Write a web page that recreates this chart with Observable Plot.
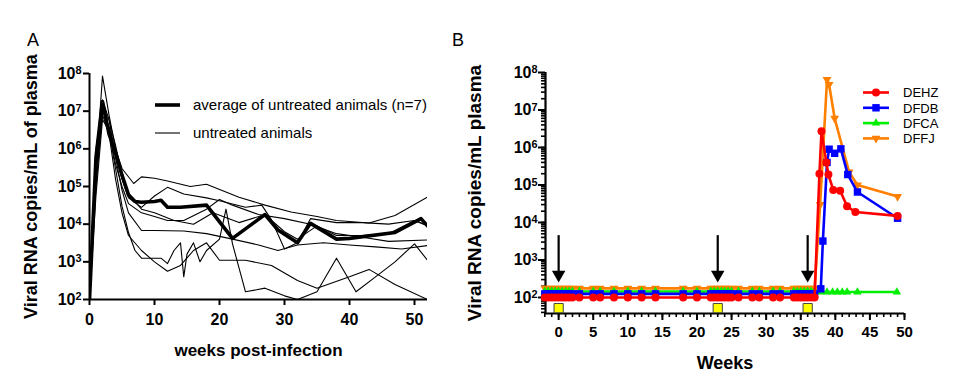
<!DOCTYPE html>
<html><head><meta charset="utf-8">
<script src="https://cdn.jsdelivr.net/npm/d3@7"></script>
<script src="https://cdn.jsdelivr.net/npm/@observablehq/plot@0.6"></script>
<style>
body{margin:0;background:#fff;}
#wrap{position:relative;width:979px;height:376px;overflow:hidden;font-family:"Liberation Sans",Arial,sans-serif;}
#wrap svg{position:absolute;top:0;}
</style></head><body><div id="wrap"></div>
<script>
// ---------- Panel A data: [week, copies/mL] ----------
const avgUntreated = [[0,1e2],[1,6e5],[2,1.8e7],[3,2.5e6],[4,8e5],[5,2e5],[6,6e4],[7,4e4],[8,3.8e4],[10,4e4],[11,4.3e4],[12,2.8e4],[14,2.8e4],[18,3.2e4],[22,4.2e3],[27,1.8e4],[29,7e3],[32,3.2e3],[34,1.05e4],[38,4e3],[40,4.2e3],[47,6e3],[51,1.4e4],[52,9e3]];
const animal1 = [[0,1e2],[1,3e5],[2,8.5e7],[3,8e6],[4,1e6],[5,3e5],[6.8,1.2e5],[8,1.8e5],[10,1.65e5],[12,1.4e5],[15.5,1e5],[18,1.15e5],[23,5.2e4],[27,3.2e4],[31,2.1e4],[35,1.6e4],[38,1.25e4],[43,1.07e4],[47,1.7e4],[52,5.2e4]];
const animal2 = [[0,1.2e2],[1,1e5],[2,1e7],[3,4e6],[4,8e5],[5,1.6e5],[6,5e4],[8,2.8e4],[10,5.6e4],[12,9.5e4],[14.5,6.3e4],[18,5e4],[20,4.2e4],[24,2.8e4],[26.5,3.2e4],[28,1.3e4],[30,2.2e3],[32,3.2e3],[34,1.4e4],[38,1.1e4],[42,1.1e4],[46,1e4],[50,1.25e4],[52,9.3e3]];
const animal3 = [[0,1e2],[1,1e6],[2,1.6e7],[3,3.2e6],[4,4e5],[5,1e5],[6,3.5e4],[8,2e4],[10,1.6e4],[12,1.25e4],[14.5,1.25e4],[18,2.5e4],[20,4.5e4],[22,3.2e4],[26,1.8e4],[30,1.4e4],[34,1e4],[38,5.6e3],[42,4.5e3],[46,3.5e3],[52,3.8e3]];
const animal4 = [[0,1e2],[1,3e5],[2,1e7],[3,6e6],[4,6e5],[5,8e4],[6,2e4],[8,6.8e3],[10,6.8e3],[14.5,6.6e3],[18,5.6e3],[22,4e3],[26,2.8e3],[29,2e3],[32,2.8e3],[36,3.2e3],[40,2.8e3],[44,2.5e3],[48,2.2e3],[52,2.7e3]];
const animal5 = [[0,1e2],[1,6e4],[2,6e6],[3,3e6],[4,3e5],[5,3e4],[6,6e3],[7,2e3],[8,1.25e3],[11,1.25e3],[12,9e2],[13,2e3],[14,3.2e3],[14.5,4e2],[15,1.6e3],[16,3.2e3],[17,1e3],[18,2e3],[20,4e3],[21,2.5e4],[22,3e3],[24,1.6e2],[27,2e2],[30,1.25e2],[32,1e2],[35,1.6e2],[38,1.25e3],[41,1.6e2],[44,4e2],[47,1e3],[50,3e3],[52,1.1e3]];
const animal6 = [[0,1e2],[1,2e5],[2,8e6],[3,2.5e6],[4,1.6e5],[5,2e4],[6,5e3],[8,2e3],[10,1e3],[12,5.6e2],[14,8e2],[16,2e3],[18,3.2e3],[20,1.1e3],[24,1.1e3],[28,8e2],[32,3.2e2],[35,2e2],[40,4e2],[43,6.3e2],[47,2.5e2],[52,1e2]];
const animal7 = [[0,1e2],[1,8e5],[2,2e7],[3,6e6],[4,1.25e6],[5,2e5],[6,6.3e4],[8,2.5e4],[10,2e4],[13,1.25e4],[16,1e4],[19,2e4],[23,1.1e4],[27,1.8e4],[30,6.3e3],[32,4e3],[35,9e3],[38,5e3],[42,5e3],[46,5.6e3],[50,1.25e4],[52,9e3]];
const untreated = [animal1, animal2, animal3, animal4, animal5, animal6, animal7];
const xTicksA = [0,10,20,30,40,50];
const yTicksA = [1e2,1e3,1e4,1e5,1e6,1e7,1e8];

// ---------- Panel B data ----------
const animalsB = ["DEHZ","DFDB","DFCA","DFFJ"];
const colorsB = ["#ff0000","#0000ff","#00ee00","#ff8000"];
const baselineWeeks = [-2,-1.5,-1,-0.5,0,0.5,1,1.5,2,3,5,6,8,10,12,14,18,20,22,22.5,23,23.5,24,24.5,25,26,28,29,31,32,34,34.5,35,35.5,36,36.5,37];
const baselineLevel = {DEHZ:100, DFDB:125, DFCA:145, DFFJ:175};
const reboundDEHZ = [[37.7,2e5],[38,2.7e6],[38.7,4e5],[39,1.9e5],[39.7,7.4e4],[40.7,7e4],[41.7,2.7e4],[42.9,1.9e4],[49,1.5e4]];
const reboundDFDB = [[37.9,170],[38.2,3.2e3],[38.8,4e5],[39.1,9e5],[39.9,7e5],[40.8,9.2e5],[41.8,1.9e5],[43.2,6.5e4],[49,1.3e4]];
const reboundDFCA = [[37.9,140],[38.8,140],[39.6,140],[40.3,140],[41,140],[41.7,140],[43.2,140],[48.9,140]];
const reboundDFFJ = [[37.8,3e4],[38.8,6.5e7],[39.1,4.8e7],[39.9,6e6],[42,2.2e5],[43.2,1e5],[49,4.9e4]];
const infusionWeeks = [0, 23, 36];
const xTicksB = [0,5,10,15,20,25,30,35,40,45,50];
const xMinorB = d3.range(-2, 51, 1);
const yTicksB = [1e2,1e3,1e4,1e5,1e6,1e7,1e8];
const yMinorB = [40,50,60,70,80,90].concat(d3.range(2,8).flatMap(k => d3.range(1,10).map(j => j*Math.pow(10,k))));

// ---------- helpers ----------
const FONT = "Liberation Sans, Arial, Helvetica, sans-serif";
const supFmt = d => "10^" + Math.round(Math.log10(d));
function fixSup(svg){
  d3.select(svg).selectAll("text").each(function(){
    const m = /^10\^(\d+)$/.exec(this.textContent);
    if (m){
      const el = d3.select(this);
      el.text("10");
      el.append("tspan").attr("dy","-0.42em").attr("font-size","0.68em").text(m[1]);
    }
  });
}
function setFonts(svg, xTick, yTick, xLab, yLab){
  const s = d3.select(svg);
  s.selectAll("g[aria-label='x-axis tick label'] text").attr("font-size", xTick).attr("font-weight", "bold");
  s.selectAll("g[aria-label='y-axis tick label'] text").attr("font-size", yTick).attr("font-weight", "bold");
  s.selectAll("g[aria-label='x-axis label'] text").attr("font-size", xLab).attr("font-weight", "bold");
  s.selectAll("g[aria-label='y-axis label'] text").attr("font-size", yLab).attr("font-weight", "bold");
}
const wrap = document.getElementById("wrap");

// ---------- Panel A ----------
const rowsA = untreated.flatMap((s,i) => s.map(([w,v]) => ({animal:i, week:w, value:v})));
const rowsAvg = avgUntreated.map(([w,v]) => ({week:w, value:v}));
const plotA = Plot.plot({
  width: 470, height: 376,
  marginLeft: 89, marginRight: 43, marginTop: 73, marginBottom: 77,
  style: {fontFamily: FONT, fontWeight: "bold", background: "transparent", overflow: "visible", color: "black"},
  x: {domain: [0, 52]},
  y: {type: "log", domain: [100, 1e8]},
  marks: [
    Plot.axisX({ticks: xTicksA, tickSize: 6, tickPadding: 8, strokeWidth: 2,
      label: "weeks post-infection", labelAnchor: "center", labelArrow: "none", labelOffset: 56}),
    Plot.axisY({ticks: yTicksA, tickSize: 6, tickPadding: 2, strokeWidth: 2, tickFormat: supFmt,
      label: "Viral RNA copies/mL of plasma", labelAnchor: "center", labelArrow: "none", labelOffset: 65}),
    Plot.line(rowsA, {x: "week", y: "value", z: "animal", stroke: "black", strokeWidth: 1.1, clip: true}),
    Plot.line(rowsAvg, {x: "week", y: "value", stroke: "black", strokeWidth: 3.6, clip: true}),
    Plot.ruleX([0], {strokeWidth: 2}),
    Plot.ruleY([100], {strokeWidth: 2})
  ]
});
plotA.style.left = "0px";
wrap.appendChild(plotA);
fixSup(plotA);
setFonts(plotA, 16, 16, 17, 18);

// ---------- Panel B ----------
const seriesB = {
  DEHZ: baselineWeeks.map(w => [w, baselineLevel.DEHZ]).concat(reboundDEHZ),
  DFDB: baselineWeeks.map(w => [w, baselineLevel.DFDB]).concat(reboundDFDB),
  DFCA: baselineWeeks.map(w => [w, baselineLevel.DFCA]).concat(reboundDFCA),
  DFFJ: baselineWeeks.map(w => [w, baselineLevel.DFFJ]).concat(reboundDFFJ)
};
const symbolsB = {DEHZ: "circle", DFDB: "square", DFCA: "triangle", DFFJ: "triangle"};
const rotateB = {DEHZ: 0, DFDB: 0, DFCA: 0, DFFJ: 180};
const radiusB = {DEHZ: 4, DFDB: 4.2, DFCA: 3.1, DFFJ: 3.3};
const drawOrder = ["DFFJ","DFCA","DFDB","DEHZ"];
const colorOf = name => colorsB[animalsB.indexOf(name)];
const seriesMarks = drawOrder.flatMap(name => {
  const rows = seriesB[name].map(([w,v]) => ({week:w, value:v}));
  return [
    Plot.line(rows, {x:"week", y:"value", stroke: colorOf(name), strokeWidth: 2.6}),
    Plot.dot(rows, {x:"week", y:"value", fill: colorOf(name), stroke: "none", symbol: symbolsB[name], rotate: rotateB[name], r: radiusB[name]})
  ];
});
const plotB = Plot.plot({
  width: 539, height: 376,
  marginLeft: 105, marginRight: 75, marginTop: 72, marginBottom: 63,
  style: {fontFamily: FONT, fontWeight: "bold", background: "transparent", overflow: "visible", color: "black"},
  x: {domain: [-1.9, 50]},
  y: {type: "log", domain: [37.4, 1e8]},
  marks: [
    Plot.axisX({ticks: xMinorB, tickSize: 4, strokeWidth: 1.6, tickFormat: () => "", label: null}),
    Plot.axisX({ticks: xTicksB, tickSize: 7, tickPadding: 6, strokeWidth: 2,
      label: "Weeks", labelAnchor: "center", labelArrow: "none", labelOffset: 55}),
    Plot.axisY({ticks: yMinorB, tickSize: 4, strokeWidth: 1.6, tickFormat: () => "", label: null}),
    Plot.axisY({ticks: yTicksB, tickSize: 7, tickPadding: 1, strokeWidth: 2, tickFormat: supFmt,
      label: "Viral RNA copies/mL plasma", labelAnchor: "center", labelArrow: "none", labelOffset: 78}),
    Plot.ruleX([-1.9], {strokeWidth: 2.2}),
    Plot.ruleY([37.4], {strokeWidth: 2.2}),
    Plot.ruleX(infusionWeeks, {x: d => d, y1: 4460, y2: 420, strokeWidth: 2.2}),
    Plot.dot(infusionWeeks, {x: d => d, y: 405, symbol: "triangle", rotate: 180, r: 5, fill: "black"}),
    Plot.dot(infusionWeeks, {x: d => d, y: 52, symbol: "square", r: 5.2, fill: "#ffff00", stroke: "#444", strokeWidth: 1}),
    ...seriesMarks
  ]
});
plotB.style.left = "440px";
wrap.appendChild(plotB);
fixSup(plotB);
setFonts(plotB, 15, 16, 18, 19);

// ---------- Overlay: panel letters and legends ----------
const ov = d3.select(wrap).append("svg").attr("width", 979).attr("height", 376)
  .style("left", "0px").attr("font-family", FONT);
ov.append("text").attr("x", 27).attr("y", 46).attr("font-size", 18).text("A");
ov.append("text").attr("x", 452).attr("y", 46).attr("font-size", 18).text("B");
// legend A
const legA = [{label: "average of untreated animals (n=7)", w: 3.6}, {label: "untreated animals", w: 1.1}];
legA.forEach((d, i) => {
  const y = 105 + i * 28;
  ov.append("line").attr("x1", 155).attr("x2", 180).attr("y1", y).attr("y2", y).attr("stroke", "black").attr("stroke-width", d.w);
  ov.append("text").attr("x", 193).attr("y", y + 5).attr("font-size", 15).text(d.label);
});
// legend B
animalsB.forEach((name, i) => {
  const y = 92.5 + i * 15.3;
  ov.append("line").attr("x1", 863).attr("x2", 889).attr("y1", y).attr("y2", y).attr("stroke", colorsB[i]).attr("stroke-width", 2.6);
  const symType = {circle: d3.symbolCircle, square: d3.symbolSquare, triangle: d3.symbolTriangle}[symbolsB[name]];
  ov.append("path").attr("d", d3.symbol(symType, Math.PI * radiusB[name] ** 2)())
    .attr("transform", `translate(876,${y}) rotate(${rotateB[name]})`).attr("fill", colorsB[i]);
  ov.append("text").attr("x", 903).attr("y", y + 4.7).attr("font-size", 13).text(name);
});
</script></body></html>
